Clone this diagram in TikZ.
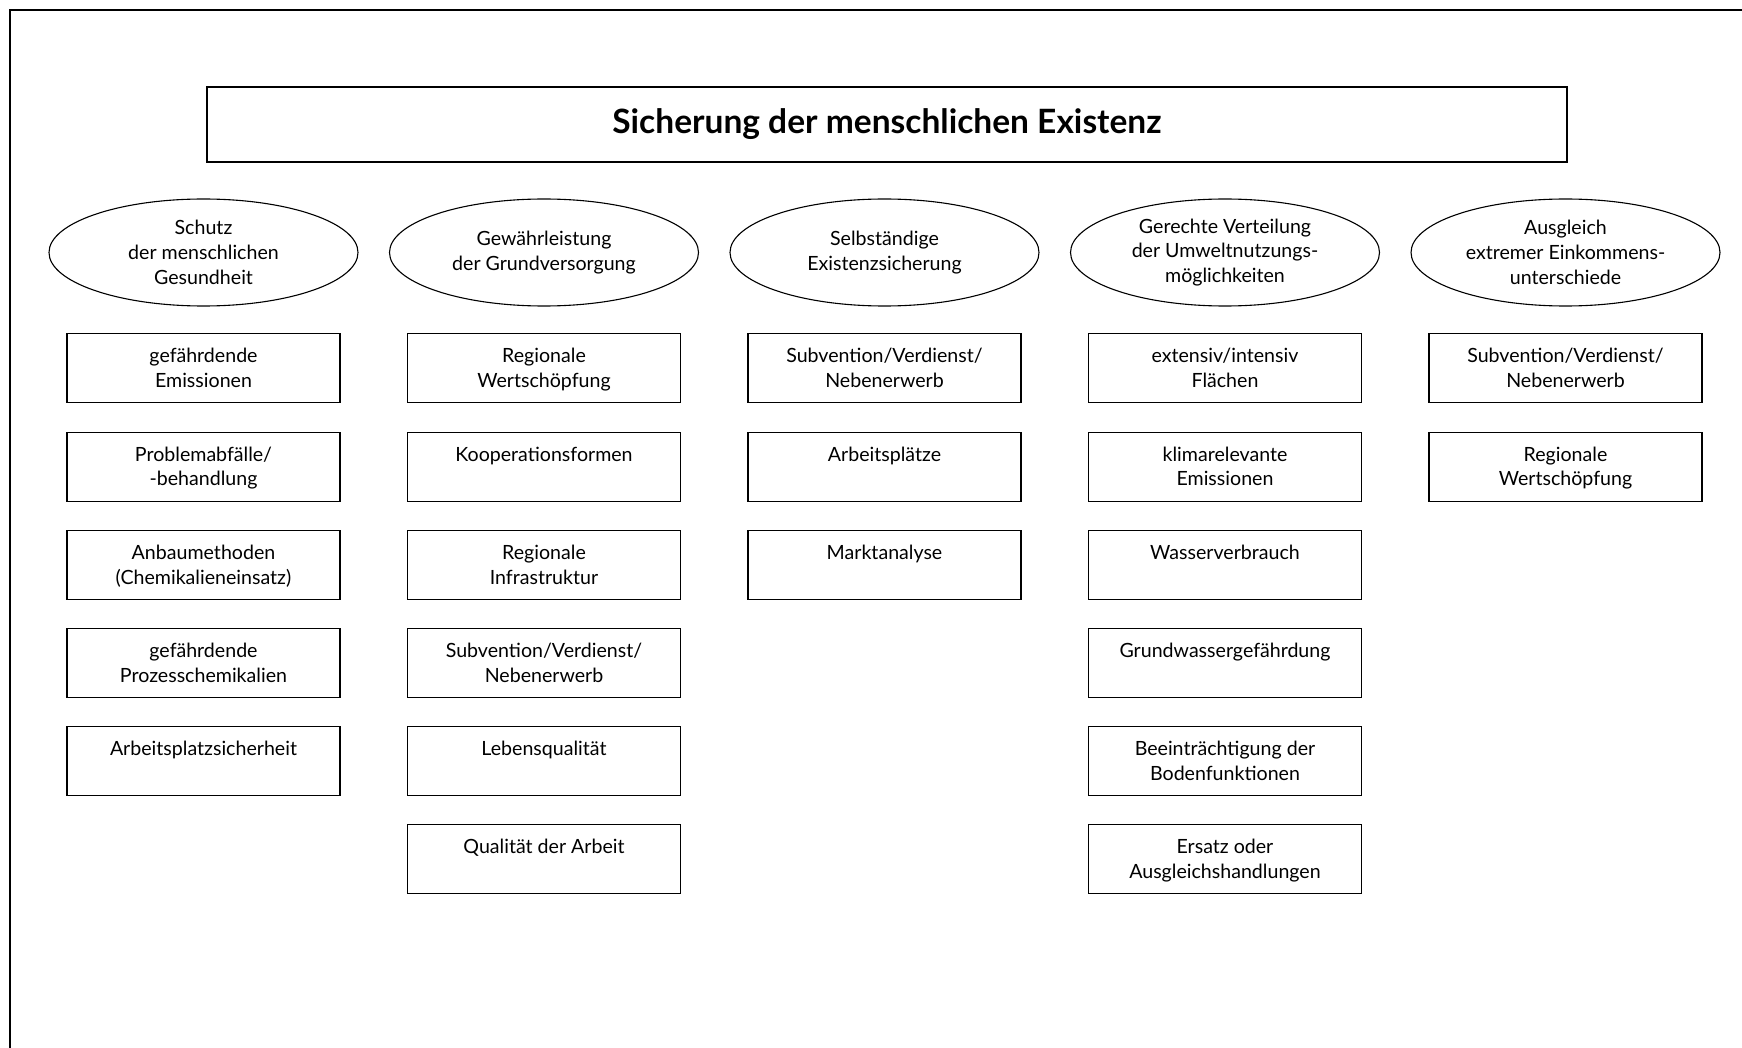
\documentclass[tikz,border=0pt]{standalone}
\usepackage{fontspec}
\setmainfont{Lato}
\usetikzlibrary{shapes.geometric}
\begin{document}
\begin{tikzpicture}[x=1pt,y=-1pt,
  outline/.style={draw=black, line width=1.1pt},
  bodyfont/.style={font=\fontsize{19.6}{24.8}\selectfont},
  goal/.style={outline, ellipse, minimum width=309pt, minimum height=107pt,
    inner sep=0pt, align=center, bodyfont},
  cell/.style={outline, rectangle, minimum width=273pt, minimum height=69pt,
    inner sep=0pt, anchor=north},
  celltext/.style={anchor=north, inner sep=0pt, yshift=-15pt, align=center, bodyfont},
]
\useasboundingbox (0,0) rectangle (1742,1048);

% open frame: top and left edge only
\coordinate (frameTR) at (1742,10);
\coordinate (frameTL) at (10,10);
\coordinate (frameBL) at (10,1048);
\draw[line width=1.3pt] (frameTR) -- (frameTL) -- (frameBL);

% heading
\node[outline, minimum width=1360pt, minimum height=75pt, inner sep=0pt,
  font=\fontsize{33.5}{36}\selectfont\bfseries] (title) at (887,124.5)
  {Sicherung der menschlichen Existenz};

% the five goals
\node[goal] (g1) at (203.5,252.5) {Schutz\\der menschlichen\\Gesundheit};
\node[goal] (g2) at (544,252.5) {Gewährleistung\\der Grundversorgung};
\node[goal] (g3) at (884.5,252.5) {Selbständige\\Existenzsicherung};
\node[goal] (g4) at (1225,252.5) {Gerechte Verteilung\\der Umweltnutzungs-\\möglichkeiten};
\node[goal] (g5) at (1565.5,252.5) {Ausgleich\\extremer Einkommens-\\unterschiede};

% indicator boxes, column by column
\foreach \t [count=\r from 0] in {{gefährdende\\Emissionen},{Problemabfälle/\\-behandlung},
  {Anbaumethoden\\(Chemikalieneinsatz)},{gefährdende\\Prozesschemikalien},{Arbeitsplatzsicherheit}}{
  \node[cell] (a\r) at (203.5,333.3+98.2*\r) {};
  \node[celltext] (at\r) at (a\r.north) {\t};
}
\foreach \t [count=\r from 0] in {{Regionale\\Wertschöpfung},{Kooperationsformen},
  {Regionale\\Infrastruktur},{Subvention/Verdienst/\\Nebenerwerb},{Lebensqualität},{Qualität der Arbeit}}{
  \node[cell] (b\r) at (544,333.3+98.2*\r) {};
  \node[celltext] (bt\r) at (b\r.north) {\t};
}
\foreach \t [count=\r from 0] in {{Subvention/Verdienst/\\Nebenerwerb},{Arbeitsplätze},{Marktanalyse}}{
  \node[cell] (c\r) at (884.5,333.3+98.2*\r) {};
  \node[celltext] (ct\r) at (c\r.north) {\t};
}
\foreach \t [count=\r from 0] in {{extensiv/intensiv\\Flächen},{klimarelevante\\Emissionen},
  {Wasserverbrauch},{Grundwassergefährdung},{Beeinträchtigung der\\Bodenfunktionen},
  {Ersatz oder\\Ausgleichshandlungen}}{
  \node[cell] (d\r) at (1225,333.3+98.2*\r) {};
  \node[celltext] (dt\r) at (d\r.north) {\t};
}
\foreach \t [count=\r from 0] in {{Subvention/Verdienst/\\Nebenerwerb},{Regionale\\Wertschöpfung}}{
  \node[cell] (e\r) at (1565.5,333.3+98.2*\r) {};
  \node[celltext] (et\r) at (e\r.north) {\t};
}
\end{tikzpicture}
\end{document}
